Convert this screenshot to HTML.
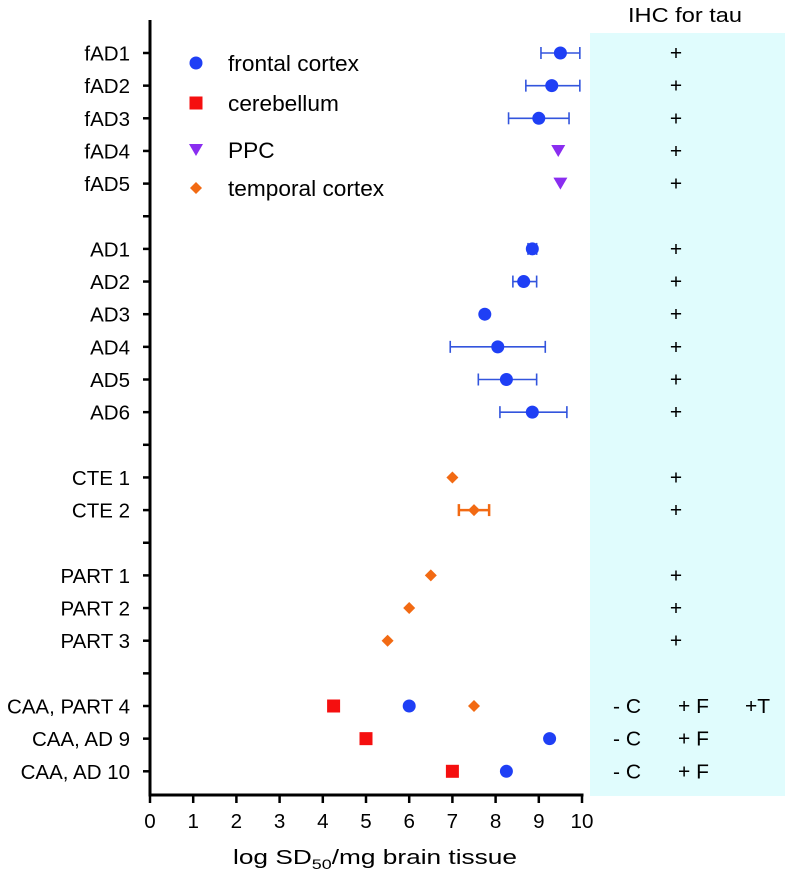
<!DOCTYPE html>
<html><head><meta charset="utf-8"><style>
body{margin:0;background:#fff;}
svg text{font-family:"Liberation Sans",Arial,sans-serif;}
</style></head><body>
<svg width="786" height="877" viewBox="0 0 786 877" xmlns="http://www.w3.org/2000/svg">
<rect x="590" y="33" width="195" height="763" fill="#e0fcfd"/>
<text x="685" y="22" font-size="20" text-anchor="middle" textLength="114" lengthAdjust="spacingAndGlyphs">IHC for tau</text>
<g id="axes"></g>
<g id="marks"></g>
<g id="legend"></g>
<text x="233" y="864" font-size="20.5" textLength="284" lengthAdjust="spacingAndGlyphs">log SD<tspan font-size="14" dy="5">50</tspan><tspan dy="-5">/mg brain tissue</tspan></text>
</svg>
<script>
const categories=["fAD1","fAD2","fAD3","fAD4","fAD5","","AD1","AD2","AD3","AD4","AD5","AD6","","CTE 1","CTE 2","","PART 1","PART 2","PART 3","","CAA, PART 4","CAA, AD 9","CAA, AD 10"];
const frontalVals=[9.5,9.3,9.0,null,null,null,8.85,8.65,7.75,8.05,8.25,8.85,null,null,null,null,null,null,null,null,6.0,9.25,8.25];
const frontalLo=[9.05,8.7,8.3,null,null,null,8.75,8.4,null,6.95,7.6,8.1,null,null,null,null,null,null,null,null,null,null,null];
const frontalHi=[9.95,9.95,9.7,null,null,null,8.95,8.95,null,9.15,8.95,9.65,null,null,null,null,null,null,null,null,null,null,null];
const cerebVals=[null,null,null,null,null,null,null,null,null,null,null,null,null,null,null,null,null,null,null,null,4.25,5.0,7.0];
const ppcVals=[null,null,null,9.45,9.5,null,null,null,null,null,null,null,null,null,null,null,null,null,null,null,null,null,null];
const temporalVals=[null,null,null,null,null,null,null,null,null,null,null,null,null,7.0,7.5,null,6.5,6.0,5.5,null,7.5,null,null];
const temporalLo=[null,null,null,null,null,null,null,null,null,null,null,null,null,null,7.15,null,null,null,null,null,null,null,null];
const temporalHi=[null,null,null,null,null,null,null,null,null,null,null,null,null,null,7.85,null,null,null,null,null,null,null,null];
const ihcC=["","","","","","","","","","","","","","","","","","","","","- C","- C","- C"];
const ihcF=["+","+","+","+","+","","+","+","+","+","+","+","","+","+","","+","+","+","","+ F","+ F","+ F"];
const ihcT=["","","","","","","","","","","","","","","","","","","","","+T","",""];
const xTicks=[0,1,2,3,4,5,6,7,8,9,10];

const NS="http://www.w3.org/2000/svg";
const X0=150,X1=582,Y0=53,DY=32.65,YAX=795,YTOP=20;
const xs=v=>X0+(X1-X0)*v/10;
const ys=i=>Y0+i*DY;
function mk(tag,attrs,parent,txt){const e=document.createElementNS(NS,tag);for(const k in attrs)e.setAttribute(k,attrs[k]);if(txt!==undefined)e.textContent=txt;parent.appendChild(e);return e;}
function stext(x,y,size,anchor,sc,str,parent){return mk('text',{x:0,y:0,'font-size':size,'text-anchor':anchor,transform:`translate(${x},${y}) scale(${sc},1)`},parent,str);}
const axes=document.getElementById('axes'),marks=document.getElementById('marks'),leg=document.getElementById('legend');
let e;
e=mk('line',{x1:X0,y1:YTOP,x2:X0,y2:YAX+1.5,stroke:'#000','stroke-width':3},axes);


e=mk('line',{x1:X0-1.5,y1:YAX,x2:X1+1.5,y2:YAX,stroke:'#000','stroke-width':3},axes);


xTicks.forEach(t=>{
 e=mk('line',{x1:xs(t),y1:YAX,x2:xs(t),y2:YAX+8,stroke:'#000','stroke-width':2.5},axes);
 
 
 e=stext(xs(t),YAX+33,20,'middle',1.03,String(t),axes);
 
 
});
categories.forEach((c,i)=>{
 e=mk('line',{x1:X0-7,y1:ys(i),x2:X0,y2:ys(i),stroke:'#000','stroke-width':2.5},axes);
 
 
 if(c){
  e=stext(X0-20,ys(i)+7.5,20.5,'end',1,c,axes);
  
  
 }
 if(ihcF[i]){
  e=stext(ihcC[i]?678:676,ys(i)+7,20,ihcC[i]?'start':'middle',1.05,ihcF[i],axes);
  
  
 }
 if(ihcC[i]){
  e=stext(613,ys(i)+7,20,'start',1.05,ihcC[i],axes);
  
  
 }
 if(ihcT[i]){
  e=stext(745,ys(i)+7,20,'start',1.05,ihcT[i],axes);
  
  
 }
});
function err(lo,hi,color,w){
 lo.forEach((l,i)=>{if(l==null)return;const h=hi[i],y=ys(i);
  const g=mk('g',{stroke:color,'stroke-width':w},marks);
  
  
  mk('line',{x1:xs(l),y1:y,x2:xs(h),y2:y},g);
  mk('line',{x1:xs(l),y1:y-6,x2:xs(l),y2:y+6},g);
  mk('line',{x1:xs(h),y1:y-6,x2:xs(h),y2:y+6},g);
 });
}
err(frontalLo,frontalHi,'#3355dd',1.6);
err(temporalLo,temporalHi,'#f26a13',2.5);
function circ(x,y,p,name){e=mk('circle',{cx:x,cy:y,r:6.5,fill:'#1f3ff5'},p);}
function sq(x,y,p,name){e=mk('rect',{x:x-6.5,y:y-6.5,width:13,height:13,fill:'#f50f0f'},p);}
function tri(x,y,p,name){e=mk('polygon',{points:`${x-7},${y-6} ${x+7},${y-6} ${x},${y+6}`,fill:'#8a2df0'},p);}
function dia(x,y,p,name){e=mk('polygon',{points:`${x},${y-6} ${x+6},${y} ${x},${y+6} ${x-6},${y}`,fill:'#f26a13'},p);}
frontalVals.forEach((v,i)=>{if(v!=null)circ(xs(v),ys(i),marks,'frontal-point');});
cerebVals.forEach((v,i)=>{if(v!=null)sq(xs(v),ys(i),marks,'cerebellum-point');});
ppcVals.forEach((v,i)=>{if(v!=null)tri(xs(v),ys(i),marks,'ppc-point');});
temporalVals.forEach((v,i)=>{if(v!=null)dia(xs(v),ys(i),marks,'temporal-point');});
const legItems=[["frontal cortex",circ],["cerebellum",sq],["PPC",tri],["temporal cortex",dia]];
const legY=[63,103,150,188];
legItems.forEach((it,k)=>{
 it[1](196,legY[k],leg,'legend-marker');
 e=stext(228,legY[k]+8,22,'start',1.03,it[0],leg);
 
 
});
</script>
</body></html>
